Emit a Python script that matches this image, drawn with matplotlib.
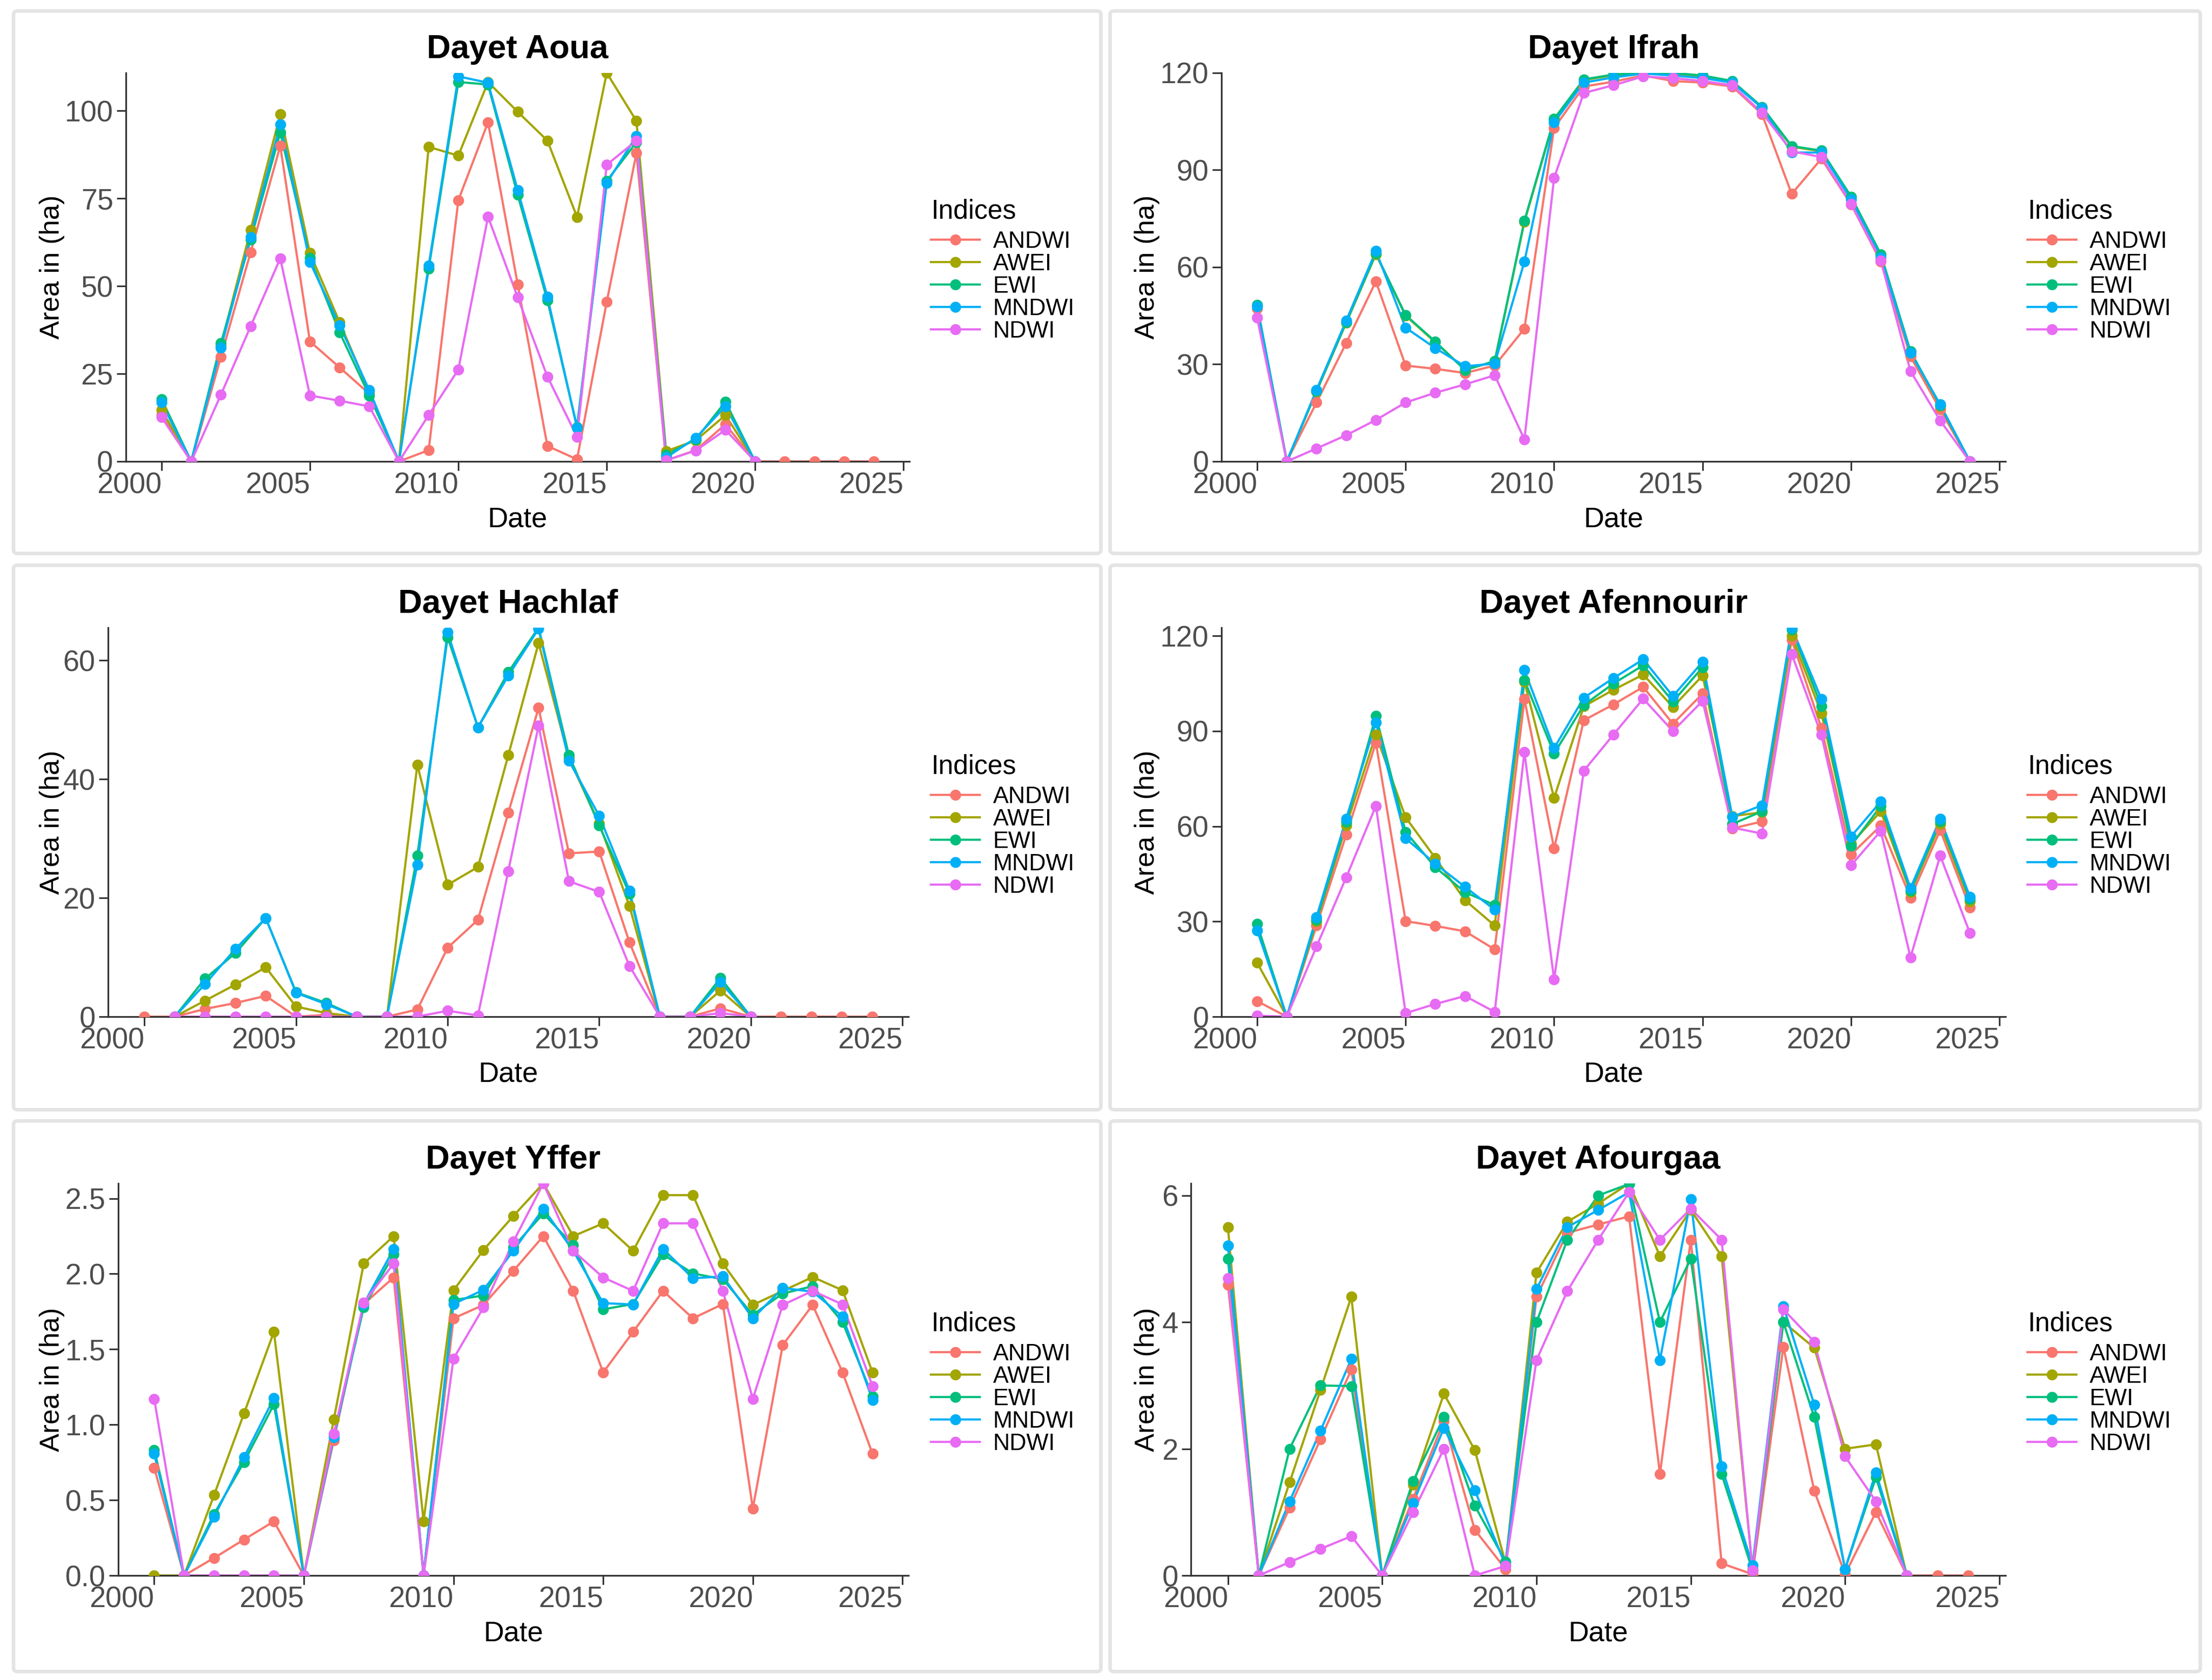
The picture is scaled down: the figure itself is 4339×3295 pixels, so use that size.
import numpy as np
import matplotlib.pyplot as plt
from matplotlib.lines import Line2D
from matplotlib.patches import FancyBboxPatch

plt.rcParams['font.family'] = ['Liberation Sans', 'DejaVu Sans']

# Años de las imágenes
years = list(range(2000, 2025))
nan = np.nan

indices = ['ANDWI', 'AWEI', 'EWI', 'MNDWI', 'NDWI']
colores = ['#F8766D', '#A3A500', '#00BF7D', '#00B0F6', '#E76BF3']

# Dayet Aoua
aoua_andwi = [13.2, 0, 29.8, 59.6, 90, 34.2, 26.8, 19.3, 0, 3.2, 74.5, 96.7, 50.5, 4.4, 0.6, 45.5, 87.9, 0.3, 3.2, 10.6, 0, 0, 0, 0, 0]
aoua_awei = [14.7, 0, 33, 66, 99, 59.4, 39.7, 19.8, 0, 89.7, 87.2, 108.2, 99.7, 91.5, 69.7, 110.8, 97.1, 2.9, 6, 13.2, 0, nan, nan, nan, nan]
aoua_ewi = [17.8, 0, 33.7, 63.2, 93.8, 58, 36.8, 18.8, 0, 55, 108.2, 107.5, 76, 46, 9.8, 80, 91, 1.9, 6.3, 17, 0, nan, nan, nan, nan]
aoua_mndwi = [16.8, 0, 32.4, 64, 96.1, 56.8, 38.8, 20.3, 0, 55.8, 109.8, 108, 77.4, 47, 9.6, 79.4, 92.8, 1.1, 6.7, 15.7, 0, nan, nan, nan, nan]
aoua_ndwi = [12.6, 0, 19, 38.5, 57.9, 18.8, 17.3, 15.7, 0, 13.2, 26.2, 69.8, 46.8, 24.2, 7, 84.6, 91.5, 0.3, 3.1, 9, 0, nan, nan, nan, nan]

# Dayet Ifrah
ifrah_andwi = [47.2, 0, 18.2, 36.6, 55.6, 29.6, 28.6, 27.3, 29.6, 41, 103, 115.8, 117.3, 119.2, 117.5, 117, 115.8, 107.3, 82.6, 93.5, 79.4, 61.7, 32.4, 16, 0]
ifrah_awei = [48.0, 0, 21.6, 42.8, 64.0, 45.0, 36.8, 28.4, 30.8, 74.0, 105.5, 117.8, 119.3, 119.8, 119.8, 119.0, 117.3, 109.3, 97.2, 95.8, 81.6, 63.8, 33.8, 17.1, 0]
ifrah_ewi = [48.3, 0, 21.8, 43, 64.2, 45.2, 37, 28.2, 31, 74.3, 105.8, 118, 119.5, 120, 120, 119.2, 117.5, 109.5, 97.4, 96, 81.8, 64, 34, 17.3, 0]
ifrah_mndwi = [47.8, 0, 22.1, 43.5, 65, 41.3, 35, 29.4, 30.2, 61.7, 104.7, 117, 118.6, 119.8, 119.2, 118.4, 117, 109.2, 95.4, 95.4, 80.9, 63, 33.5, 17.6, 0]
ifrah_ndwi = [44.4, 0, 4, 8.1, 12.8, 18.2, 21.2, 23.8, 26.6, 6.8, 87.6, 113.8, 116.2, 118.9, 118.4, 117.5, 116.2, 107.7, 95.8, 94, 79.6, 62, 27.9, 12.6, 0]

# Dayet Hachlaf
hachlaf_andwi = [0, 0, 1.3, 2.3, 3.5, 0, 0.3, 0, 0, 1.2, 11.6, 16.3, 34.3, 52, 27.5, 27.8, 12.5, 0, 0, 1.4, 0, 0, 0, 0, 0]
hachlaf_awei = [nan, 0, 2.7, 5.4, 8.3, 1.7, 0.6, 0, 0, 42.4, 22.2, 25.2, 44, 62.9, 43.5, 32.5, 18.6, 0, 0, 4.4, 0, nan, nan, nan, nan]
hachlaf_ewi = [nan, 0, 6.4, 10.7, 16.6, 4.1, 2.3, 0, 0, 27.1, 63.9, 48.7, 58, 65.5, 44, 32.2, 20.7, 0, 0, 6.5, 0, nan, nan, nan, nan]
hachlaf_mndwi = [nan, 0, 5.5, 11.4, 16.6, 4, 2.1, 0, 0, 25.6, 64.7, 48.7, 57.4, 65.3, 43.1, 33.8, 21.2, 0, 0, 5.8, 0, nan, nan, nan, nan]
hachlaf_ndwi = [nan, 0, 0, 0, 0, 0, 0, 0, 0, 0, 1, 0.2, 24.5, 49, 22.8, 21, 8.5, 0, 0, 0.6, 0, nan, nan, nan, nan]

# Dayet Afennourir
afen_andwi = [4.9, 0, 28.7, 57.3, 86.3, 30.1, 28.6, 26.9, 21.2, 100.1, 53, 93.4, 98.4, 103.9, 92.3, 101.8, 59.3, 61.5, 118.8, 91, 51.1, 60.2, 37.5, 58.8, 34.4]
afen_awei = [17, 0, 30, 60.2, 88.9, 62.8, 50, 36.7, 28.7, 105.6, 68.9, 97.8, 103, 107.8, 97.6, 107.5, 63.2, 64.4, 120, 95.6, 54.5, 64.7, 39.2, 60.7, 36.3]
afen_ewi = [29.2, 0, 30.6, 61.3, 94.8, 58.2, 47.1, 39.2, 35.2, 106.1, 82.9, 98.2, 105, 110.7, 99.3, 110.1, 60.7, 64.7, 122, 97.8, 53.9, 66.4, 39.7, 61.6, 37.1]
afen_mndwi = [27.2, 0, 31.4, 62.4, 92.7, 56.2, 48.2, 40.9, 33.7, 109.2, 84.6, 100.5, 106.7, 112.6, 101, 111.8, 63, 66.6, 122.6, 100.1, 56.8, 67.8, 40.5, 62.4, 37.8]
afen_ndwi = [0.3, 0, 22.1, 43.9, 66.4, 1.1, 4, 6.5, 1.5, 83.4, 11.7, 77.5, 88.9, 100.2, 90, 99.5, 59.6, 57.7, 114.3, 88.8, 47.7, 58.5, 18.7, 50.7, 26.4]

# Dayet Yffer
yffer_andwi = [0.715, 0, 0.116, 0.238, 0.359, 0, 0.897, 1.80, 1.976, 0, 1.705, 1.794, 2.02, 2.25, 1.887, 1.346, 1.615, 1.887, 1.705, 1.80, 0.444, 1.528, 1.794, 1.346, 0.807]
yffer_awei = [0.0, 0, 0.533, 1.074, 1.615, 0, 1.033, 2.068, 2.25, 0.359, 1.891, 2.158, 2.384, 2.60, 2.25, 2.335, 2.153, 2.522, 2.522, 2.068, 1.794, 1.887, 1.979, 1.891, 1.346]
yffer_ewi = [0.832, 0, 0.407, 0.752, 1.135, 0, 0.929, 1.777, 2.129, 0, 1.826, 1.857, 2.178, 2.40, 2.19, 1.765, 1.80, 2.129, 2.003, 1.964, 1.729, 1.87, 1.918, 1.68, 1.188]
yffer_mndwi = [0.807, 0, 0.388, 0.783, 1.176, 0, 0.917, 1.80, 2.165, 0, 1.80, 1.894, 2.153, 2.432, 2.153, 1.806, 1.797, 2.165, 1.971, 1.983, 1.705, 1.906, 1.882, 1.717, 1.164]
yffer_ndwi = [1.171, 0, 0.0, 0.0, 0.0, 0, 0.94, 1.809, 2.068, 0, 1.438, 1.777, 2.214, 2.60, 2.153, 1.976, 1.887, 2.335, 2.335, 1.887, 1.171, 1.794, 1.887, 1.797, 1.256]

# Dayet Afourgaa
afour_andwi = [4.59, 0, 1.07, 2.15, 3.25, 0, 1.21, 2.44, 0.72, 0.1, 4.40, 5.41, 5.54, 5.67, 1.60, 5.30, 0.19, 0.02, 3.61, 1.34, 0.02, 1.0, 0, 0, 0]
afour_awei = [5.50, 0, 1.47, 2.93, 4.40, 0, 1.43, 2.87, 1.98, 0.19, 4.78, 5.585, 5.87, 6.19, 5.04, 5.77, 5.04, 0.1, 4.0, 3.595, 2.0, 2.07, 0, nan, nan]
afour_ewi = [5.0, 0, 2.0, 3.0, 2.99, 0, 1.49, 2.50, 1.10, 0.22, 4.0, 5.30, 6.0, 6.18, 4.0, 5.0, 1.60, 0.08, 4.0, 2.50, 0.1, 1.55, 0, nan, nan]
afour_mndwi = [5.21, 0, 1.17, 2.285, 3.42, 0, 1.14, 2.33, 1.345, 0.16, 4.52, 5.50, 5.77, 6.05, 3.40, 5.94, 1.72, 0.16, 4.25, 2.70, 0.1, 1.63, 0, nan, nan]
afour_ndwi = [4.69, 0, 0.21, 0.42, 0.62, 0, 1.0, 2.0, 0.0, 0.15, 3.40, 4.49, 5.30, 6.05, 5.30, 5.79, 5.30, 0.08, 4.2, 3.69, 1.88, 1.17, 0, nan, nan]

lagunas = [
    ('Dayet Aoua', [aoua_andwi, aoua_awei, aoua_ewi, aoua_mndwi, aoua_ndwi], [0, 25, 50, 75, 100]),
    ('Dayet Ifrah', [ifrah_andwi, ifrah_awei, ifrah_ewi, ifrah_mndwi, ifrah_ndwi], [0, 30, 60, 90, 120]),
    ('Dayet Hachlaf', [hachlaf_andwi, hachlaf_awei, hachlaf_ewi, hachlaf_mndwi, hachlaf_ndwi], [0, 20, 40, 60]),
    ('Dayet Afennourir', [afen_andwi, afen_awei, afen_ewi, afen_mndwi, afen_ndwi], [0, 30, 60, 90, 120]),
    ('Dayet Yffer', [yffer_andwi, yffer_awei, yffer_ewi, yffer_mndwi, yffer_ndwi], [0.0, 0.5, 1.0, 1.5, 2.0, 2.5]),
    ('Dayet Afourgaa', [afour_andwi, afour_awei, afour_ewi, afour_mndwi, afour_ndwi], [0, 2, 4, 6]),
]

# Geometría en píxeles de la imagen original
W, H = 4339, 3295
# (izq, der, arriba, abajo) de cada panel
cajas = [(247, 1784, 143, 905), (2396, 3934, 143, 905),
         (212, 1782, 1231, 1994), (2396, 3934, 1231, 1994),
         (232, 1782, 2321, 3090), (2336, 3934, 2321, 3090)]
marcos_x = [(26.5, 2159.5), (2177.5, 4316)]
marcos_y = [(21.5, 1085.5), (1108.5, 2176.5), (2198.5, 3278.5)]
ylabel_x = [102, 2250]
leyenda_x = [1826, 3977]

fig = plt.figure(figsize=(W / 100, H / 100), dpi=100)
fig.patch.set_facecolor('white')

# Marcos grises de cada panel
for fila in marcos_y:
    for col in marcos_x:
        r = FancyBboxPatch((col[0] / W, 1 - fila[1] / H), (col[1] - col[0]) / W, (fila[1] - fila[0]) / H,
                           boxstyle='round,pad=0,rounding_size=0.002', transform=fig.transFigure,
                           facecolor='none', edgecolor='#e4e4e4', linewidth=5.0, zorder=0)
        fig.patches.append(r)

for i, (nombre, series, yt) in enumerate(lagunas):
    l, r, t, b = cajas[i]
    ax = fig.add_axes([l / W, 1 - b / H, (r - l) / W, (b - t) / H])
    ax.set_facecolor('none')
    # Primero las líneas, después los puntos (como ggplot)
    for s, c in zip(series, colores):
        ax.plot(years, s, color=c, lw=3.1, zorder=2, solid_capstyle='butt')
    for s, c in zip(series, colores):
        ax.plot(years, s, ls='none', marker='o', ms=14.5, color=c, zorder=3)

    ymax = np.nanmax([np.nanmax(s) for s in series])
    ax.set_ylim(0, ymax)
    ax.set_xlim(1998.8, 2025.2)
    ax.set_xticks([2000, 2005, 2010, 2015, 2020, 2025])
    ax.set_yticks(yt)
    if i == 4:
        ax.set_yticklabels(['%.1f' % v for v in yt])
    for lab in ax.get_xticklabels():
        lab.set_ha('right')
    ax.tick_params(axis='both', length=13, width=2.3, color='#333333', labelsize=41, labelcolor='#4d4d4d')
    ax.tick_params(axis='x', pad=2)
    ax.tick_params(axis='y', pad=5)
    for lado in ['top', 'right']:
        ax.spines[lado].set_visible(False)
    for lado in ['left', 'bottom']:
        ax.spines[lado].set_linewidth(2.4)
        ax.spines[lado].set_color('#333333')

    alto = b - t
    ax.text(0.5, 1 + 29 / alto, nombre, transform=ax.transAxes, ha='center', va='baseline',
            fontsize=47, fontweight='bold', color='black')
    ax.text(0.5, -128 / alto, 'Date', transform=ax.transAxes, ha='center', va='baseline',
            fontsize=40, color='black')
    fig.text(ylabel_x[i % 2] / W, 1 - (t + b) / 2 / H, 'Area in (ha)', rotation=90,
             ha='center', va='center', fontsize=39, color='black')

    manijas = [Line2D([0], [0], color=c, lw=3.1, marker='o', ms=14.5) for c in colores]
    leg = ax.legend(manijas, indices, loc='center left',
                    bbox_to_anchor=(leyenda_x[i % 2] / W, 1 - ((t + b) / 2 + 7) / H),
                    bbox_transform=fig.transFigure, frameon=False, fontsize=33,
                    title='Indices', title_fontsize=38, alignment='left',
                    borderpad=0, borderaxespad=0, handlelength=2.1, handletextpad=0.55,
                    labelspacing=0.0)
    # separación extra entre el título de la leyenda y las entradas
    leg._legend_box.sep = 9

fig.savefig('out.png', dpi=100)
